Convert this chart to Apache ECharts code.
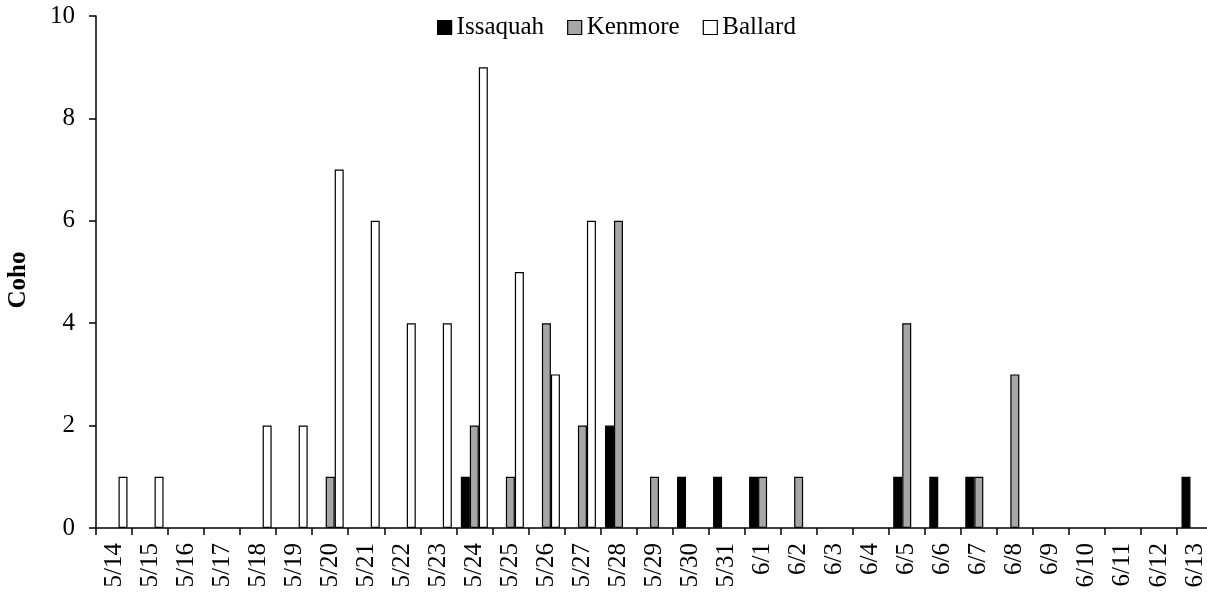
<!DOCTYPE html>
<html>
<head>
<meta charset="utf-8">
<script src="https://cdn.jsdelivr.net/npm/echarts@6/dist/echarts.min.js"></script>
<style>
html,body{margin:0;padding:0;background:#fff;}
#chart{width:1207px;height:592px;}
</style>
</head>
<body>
<div id="chart"></div>
<script>
const categories = ['5/14','5/15','5/16','5/17','5/18','5/19','5/20','5/21','5/22','5/23','5/24','5/25','5/26','5/27','5/28','5/29','5/30','5/31','6/1','6/2','6/3','6/4','6/5','6/6','6/7','6/8','6/9','6/10','6/11','6/12','6/13'];
const issaquah = [0,0,0,0,0,0,0,0,0,0,1,0,0,0,2,0,1,1,1,0,0,0,1,1,1,0,0,0,0,0,1];
const kenmore  = [0,0,0,0,0,0,1,0,0,0,2,1,4,2,6,1,0,0,1,1,0,0,4,0,1,3,0,0,0,0,0];
const ballard  = [1,1,0,0,2,2,7,6,4,4,9,5,3,6,0,0,0,0,0,0,0,0,0,0,0,0,0,0,0,0,0];
const yTicks = {min:0, max:10, interval:2};

const font = '"Liberation Serif", "Times New Roman", serif';
const fs = 25;
const chart = echarts.init(document.getElementById('chart'), null, {renderer:'canvas'});
function mk(name, data, color){
  return {
    name, type:'bar', data: data.map(v => v === 0 ? '-' : v), barWidth:9, barGap:'0%',
    itemStyle:{color, borderColor:'#000', borderWidth:1.2},
    emphasis:{disabled:true}, animation:false
  };
}
chart.setOption({
  animation:false,
  backgroundColor:'#fff',
  grid:{left:96, top:16, width:1117, height:512, containLabel:false, outerBoundsMode:'none'},
  legend:{
    left:437, top:15, padding:0, itemWidth:14, itemHeight:14, itemGap:23,
    icon:'rect',
    itemStyle:{borderWidth:1.2, borderColor:'#000'},
    textStyle:{fontFamily:font, fontSize:fs, color:'#000'},
    data:['Issaquah','Kenmore','Ballard']
  },
  xAxis:{
    type:'category', data:categories, boundaryGap:true,
    axisLine:{lineStyle:{color:'#000', width:1.5}},
    axisTick:{show:true, length:7, inside:false, alignWithLabel:false, lineStyle:{color:'#000', width:1.5}},
    axisLabel:{rotate:90, interval:0, margin:15, fontFamily:font, fontSize:fs, color:'#000'},
    splitLine:{show:false}
  },
  yAxis:{
    type:'value', min:yTicks.min, max:yTicks.max, interval:yTicks.interval,
    name:'Coho', nameLocation:'middle', nameRotate:90, nameGap:65,
    nameTextStyle:{fontFamily:font, fontSize:fs, fontWeight:'bold', color:'#000', padding:[0,16,0,0]},
    axisLine:{show:true, lineStyle:{color:'#000', width:1.5}},
    axisTick:{show:true, length:7, inside:false, lineStyle:{color:'#000', width:1.5}},
    axisLabel:{margin:21, fontFamily:font, fontSize:fs, color:'#000'},
    splitLine:{show:false}
  },
  series:[
    mk('Issaquah', issaquah, '#000000'),
    mk('Kenmore', kenmore, '#a6a6a6'),
    mk('Ballard', ballard, '#ffffff')
  ]
});
</script>
</body>
</html>
